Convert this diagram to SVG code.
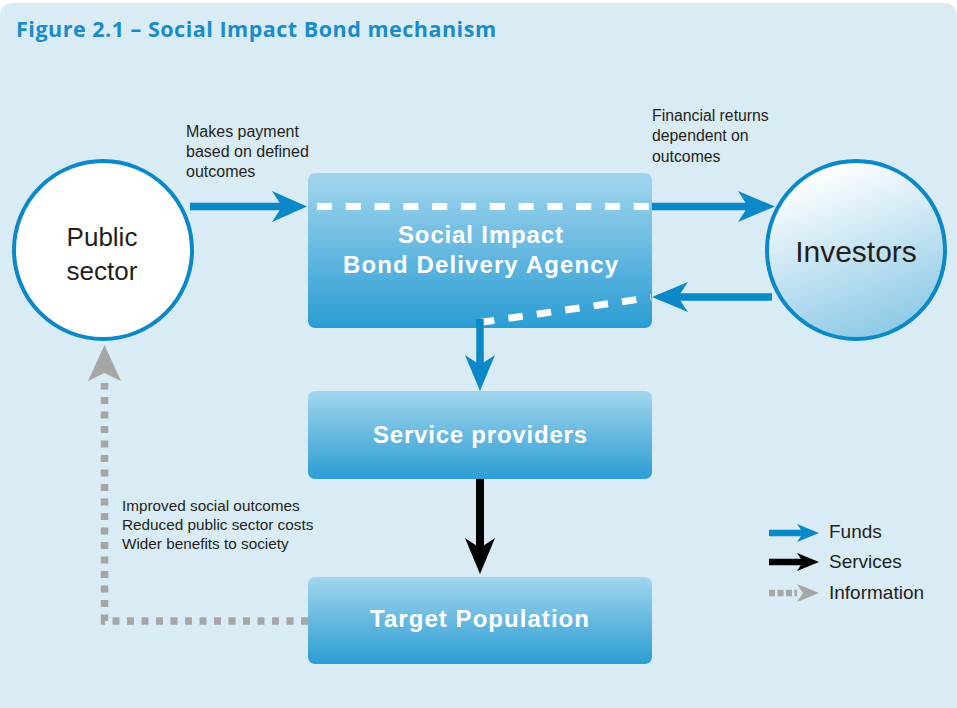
<svg xmlns="http://www.w3.org/2000/svg" width="957" height="708" viewBox="0 0 957 708">
<defs>
<linearGradient id="boxg" x1="0" y1="0" x2="0" y2="1">
<stop offset="0" stop-color="#a2d5ed"/>
<stop offset="1" stop-color="#2b9dd4"/>
</linearGradient>
<linearGradient id="invg" x1="0.3" y1="0.05" x2="0.65" y2="1">
<stop offset="0" stop-color="#ffffff"/>
<stop offset="1" stop-color="#8ac8e6"/>
</linearGradient>
<style>
.box{fill:url(#boxg);}
.bt{font-family:"Liberation Sans",Arial,sans-serif;font-weight:bold;fill:#ffffff;text-anchor:middle;}
.lbl{font-family:"Liberation Sans",Arial,sans-serif;fill:#231f20;}
.fund{stroke:#0a88c8;stroke-width:7.5;fill:none;}
.fh{fill:#0a88c8;}
.wd{stroke:#ffffff;stroke-width:7;fill:none;}
.info{stroke:#a6a6a6;stroke-width:7.5;fill:none;stroke-dasharray:7 7.5;}
</style>
</defs>
<rect x="0" y="0" width="957" height="708" fill="#ffffff"/>
<rect x="0" y="3" width="957" height="740" rx="12" fill="#d9ecf5"/>
<text x="16" y="37" font-family="'Open Sans','Liberation Sans',sans-serif" font-weight="bold" font-size="21.5" fill="#1a8bcb" textLength="480">Figure 2.1 – Social Impact Bond mechanism</text>

<g id="public-sector">
<circle cx="103" cy="250" r="89" fill="#ffffff" stroke="#0a88c8" stroke-width="4"/>
<text class="lbl" x="102" y="246" font-size="26" text-anchor="middle">Public</text>
<text class="lbl" x="102" y="280" font-size="26" text-anchor="middle">sector</text>
</g>
<g id="investors">
<circle cx="856" cy="250" r="89" fill="url(#invg)" stroke="#0a88c8" stroke-width="4"/>
<text class="lbl" x="856" y="262" font-size="30" text-anchor="middle">Investors</text>
</g>
<g id="sib-agency">
<rect class="box" x="308" y="173" width="344" height="155" rx="7"/>
<text class="bt" x="480.5" y="243" font-size="24" textLength="165">Social Impact</text>
<text class="bt" x="480.5" y="273" font-size="24" textLength="275">Bond Delivery Agency</text>
</g>
<g id="service-providers">
<rect class="box" x="308" y="391" width="344" height="88" rx="7"/>
<text class="bt" x="480" y="443" font-size="24" textLength="214">Service providers</text>
</g>
<g id="target-population">
<rect class="box" x="308" y="577" width="344" height="87" rx="7"/>
<text class="bt" x="479.5" y="627" font-size="24" textLength="219">Target Population</text>
</g>

<g id="connectors">
<line class="fund" x1="190" y1="206.5" x2="285" y2="206.5"/>
<polygon class="fh" points="307,206.5 272,191 282,206.5 272,222"/>
<line class="wd" x1="317" y1="206.5" x2="652" y2="206.5" stroke-dasharray="15 13.8"/>
<line class="fund" x1="652" y1="206.5" x2="750" y2="206.5"/>
<polygon class="fh" points="775,206.5 738,191 748,206.5 738,222"/>
<line class="fund" x1="772" y1="297" x2="675" y2="297"/>
<polygon class="fh" points="652,297 688,282 678,297 688,312"/>
<line class="wd" x1="480" y1="322.5" x2="651" y2="297.5" stroke-dasharray="14.5 14.2"/>
<line class="fund" x1="480" y1="319" x2="480" y2="365"/>
<polygon class="fh" points="480,391 465,355 480,365 495,355"/>
<line stroke="#000000" stroke-width="8" x1="480" y1="479" x2="480" y2="548"/>
<polygon fill="#000000" points="480,574 465,538 480,548 495,538"/>
<polyline class="info" points="308,621 104.5,621 104.5,383"/>
<polygon fill="#a6a6a6" points="104.5,345 88,381 104.5,373 121,381"/>
</g>

<g id="labels">
<text class="lbl" font-size="16"><tspan x="186" y="137">Makes payment</tspan><tspan x="186" y="157">based on defined</tspan><tspan x="186" y="177">outcomes</tspan></text>
<text class="lbl" font-size="15.8"><tspan x="652" y="121">Financial returns</tspan><tspan x="652" y="141">dependent on</tspan><tspan x="652" y="162">outcomes</tspan></text>
<text class="lbl" font-size="15.3"><tspan x="122" y="511">Improved social outcomes</tspan><tspan x="122" y="530">Reduced public sector costs</tspan><tspan x="122" y="549">Wider benefits to society</tspan></text>
</g>

<g id="legend">
<line stroke="#0a88c8" stroke-width="6.5" x1="769" y1="533" x2="803" y2="533"/>
<polygon fill="#0a88c8" points="819,533 797,524 803,533 797,542"/>
<text class="lbl" x="829" y="538" font-size="19">Funds</text>
<line stroke="#000000" stroke-width="6.5" x1="769" y1="562" x2="803" y2="562"/>
<polygon fill="#000000" points="819,562 797,553 803,562 797,571"/>
<text class="lbl" x="829" y="568" font-size="19">Services</text>
<line stroke="#a6a6a6" stroke-width="6.5" x1="769" y1="593" x2="797" y2="593" stroke-dasharray="6 2.5"/>
<polygon fill="#a6a6a6" points="819,593 797,584 803,593 797,602"/>
<text class="lbl" x="829" y="599" font-size="19">Information</text>
</g>
</svg>
